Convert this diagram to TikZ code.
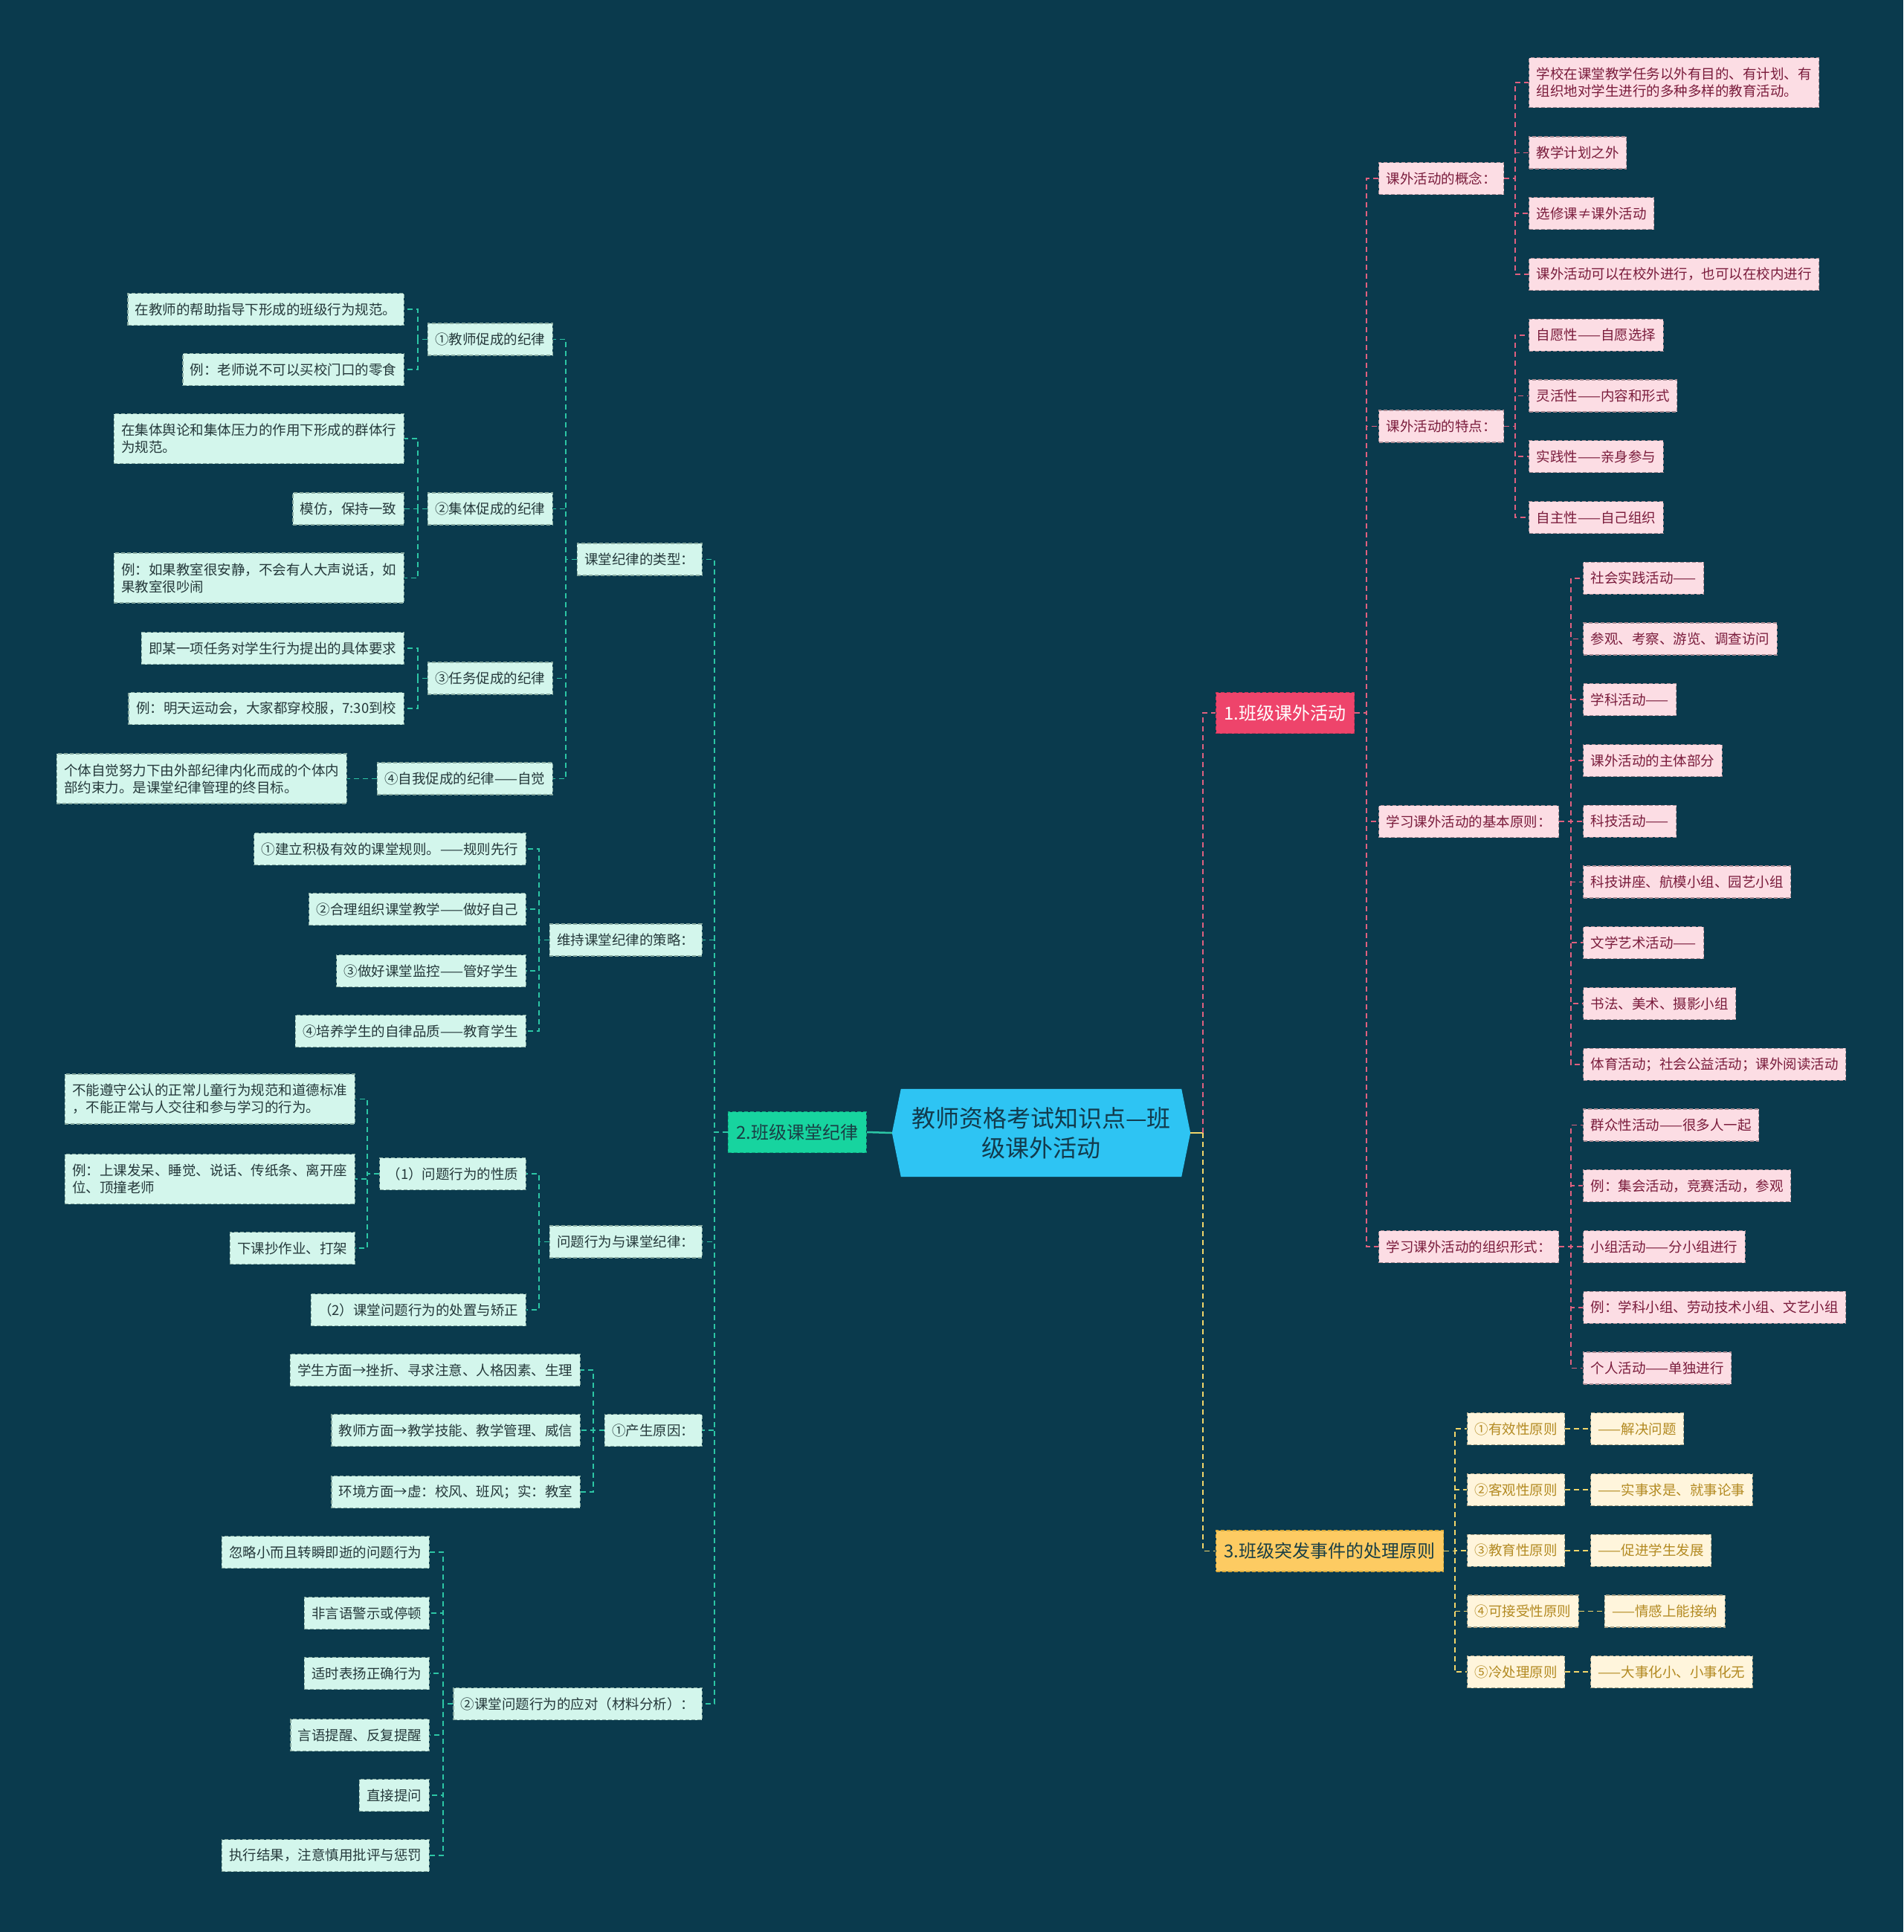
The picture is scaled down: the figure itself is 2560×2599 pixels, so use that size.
\documentclass[tikz,border=0pt]{standalone}
\usepackage{fontspec}
\setmainfont{Noto Sans CJK SC}
\usetikzlibrary{positioning,backgrounds}
\definecolor{bg}{HTML}{0A3A4D}
\definecolor{pinkfill}{HTML}{FCDDE4}
\definecolor{pinktext}{HTML}{7A1C3C}
\definecolor{pinkline}{HTML}{E0607F}
\definecolor{pinkborder}{HTML}{A88B93}
\definecolor{pinkmain}{HTML}{EE446B}
\definecolor{pinkmainb}{HTML}{C03556}
\definecolor{mintfill}{HTML}{D3F6EC}
\definecolor{minttext}{HTML}{25393B}
\definecolor{mintborder}{HTML}{86A89F}
\definecolor{greenline}{HTML}{2CC6A5}
\definecolor{greenmain}{HTML}{17D49F}
\definecolor{greenmainb}{HTML}{11A67D}
\definecolor{creamfill}{HTML}{FFF5DC}
\definecolor{creamtext}{HTML}{B38A22}
\definecolor{creamborder}{HTML}{A8A085}
\definecolor{yellowline}{HTML}{F3D66A}
\definecolor{yellowmain}{HTML}{FDCB62}
\definecolor{yellowmainb}{HTML}{D9A93A}
\definecolor{centerfill}{HTML}{2EC4F3}
\definecolor{centertext}{HTML}{123B4D}
\definecolor{maintext}{HTML}{1A3F45}
\tikzset{
 conn/.style={line width=1.6, dash pattern=on 7 off 5},
 pl/.style={conn, draw=pinkline},
 gl/.style={conn, draw=greenline},
 yl/.style={conn, draw=yellowline},
 mmbox/.style={font=\fontsize{18.5}{23}\selectfont, inner xsep=10, inner ysep=0, minimum height=43, align=left, line width=1.1, dash pattern=on 5 off 3},
 pbox/.style={mmbox, fill=pinkfill, text=pinktext, draw=pinkborder},
 gbox/.style={mmbox, fill=mintfill, text=minttext, draw=mintborder},
 ybox/.style={mmbox, fill=creamfill, text=creamtext, draw=creamborder},
 twoline/.style={minimum height=67},
 mainbox/.style={font=\fontsize{24}{30}\selectfont, inner xsep=11, inner ysep=0, minimum height=55, line width=1.2, dash pattern=on 5 off 3},
}
\begin{document}
\begin{tikzpicture}[x=1pt,y=-1pt]
\useasboundingbox (0,0) rectangle (2560,2599);
\begin{scope}[on background layer]
\fill[bg] (0,0) rectangle (2560,2599);
\end{scope}

% central
\node[font=\fontsize{32}{40}\selectfont, text=centertext, align=center, minimum width=401, minimum height=118, inner sep=0] (C) at (1400.5,1524) {教师资格考试知识点—班\\级课外活动};
\begin{scope}[on background layer]
\fill[centerfill] (C.west) -- ([xshift=12pt]C.north west) -- ([xshift=-12pt]C.north east) -- (C.east) -- ([xshift=-12pt]C.south east) -- ([xshift=12pt]C.south west) -- cycle;
\end{scope}

% ===== pink branch =====
\node[mainbox, anchor=west, fill=pinkmain, draw=pinkmainb, text=white] (P) at (1635,959) {1.班级课外活动};
\node[pbox, anchor=west] (P1) at (1854,240) {课外活动的概念：};
\node[pbox, anchor=west] (P2) at (1854,573.5) {课外活动的特点：};
\node[pbox, anchor=west] (P3) at (1854,1105) {学习课外活动的基本原则：};
\node[pbox, anchor=west] (P4) at (1854,1677) {学习课外活动的组织形式：};

\node[pbox, twoline, anchor=west] (P1a) at (2056,111) {学校在课堂教学任务以外有目的、有计划、有\\组织地对学生进行的多种多样的教育活动。};
\node[pbox, anchor=west] (P1b) at (2056,205.5) {教学计划之外};
\node[pbox, anchor=west] (P1c) at (2056,287.25) {选修课≠课外活动};
\node[pbox, anchor=west] (P1d) at (2056,369) {课外活动可以在校外进行，也可以在校内进行};
\node[pbox, anchor=west] (P2a) at (2056,450.75) {自愿性——自愿选择};
\node[pbox, anchor=west] (P2b) at (2056,532.5) {灵活性——内容和形式};
\node[pbox, anchor=west] (P2c) at (2056,614.25) {实践性——亲身参与};
\node[pbox, anchor=west] (P2d) at (2056,696) {自主性——自己组织};

\node[pbox, anchor=west] (P3a) at (2129,777.75) {社会实践活动——};
\node[pbox, anchor=west] (P3b) at (2129,859.5) {参观、考察、游览、调查访问};
\node[pbox, anchor=west] (P3c) at (2129,941.25) {学科活动——};
\node[pbox, anchor=west] (P3d) at (2129,1023) {课外活动的主体部分};
\node[pbox, anchor=west] (P3e) at (2129,1104.75) {科技活动——};
\node[pbox, anchor=west] (P3f) at (2129,1186.5) {科技讲座、航模小组、园艺小组};
\node[pbox, anchor=west] (P3g) at (2129,1268.25) {文学艺术活动——};
\node[pbox, anchor=west] (P3h) at (2129,1350) {书法、美术、摄影小组};
\node[pbox, anchor=west] (P3i) at (2129,1431.75) {体育活动；社会公益活动；课外阅读活动};
\node[pbox, anchor=west] (P4a) at (2129,1513.5) {群众性活动——很多人一起};
\node[pbox, anchor=west] (P4b) at (2129,1595.25) {例：集会活动，竞赛活动，参观};
\node[pbox, anchor=west] (P4c) at (2129,1677) {小组活动——分小组进行};
\node[pbox, anchor=west] (P4d) at (2129,1758.75) {例：学科小组、劳动技术小组、文艺小组};
\node[pbox, anchor=west] (P4e) at (2129,1840.5) {个人活动——单独进行};

% ===== yellow branch =====
\node[mainbox, anchor=west, fill=yellowmain, draw=yellowmainb, text=maintext] (Y) at (1635,2086.5) {3.班级突发事件的处理原则};
\node[ybox, anchor=west] (Y1) at (1973,1922.25) {①有效性原则};
\node[ybox, anchor=west] (Y2) at (1973,2004) {②客观性原则};
\node[ybox, anchor=west] (Y3) at (1973,2085.75) {③教育性原则};
\node[ybox, anchor=west] (Y4) at (1973,2167.5) {④可接受性原则};
\node[ybox, anchor=west] (Y5) at (1973,2249.25) {⑤冷处理原则};
\node[ybox, right=34pt of Y1] (Y1a) {——解决问题};
\node[ybox, right=34pt of Y2] (Y2a) {——实事求是、就事论事};
\node[ybox, right=34pt of Y3] (Y3a) {——促进学生发展};
\node[ybox, right=34pt of Y4] (Y4a) {——情感上能接纳};
\node[ybox, right=34pt of Y5] (Y5a) {——大事化小、小事化无};

% ===== green branch =====
\node[mainbox, anchor=east, fill=greenmain, draw=greenmainb, text=maintext] (G) at (1166,1523) {2.班级课堂纪律};
\node[gbox, anchor=east] (L1) at (945,752.5) {课堂纪律的类型：};
\node[gbox, anchor=east] (L2) at (945,1264.5) {维持课堂纪律的策略：};
\node[gbox, anchor=east] (L3) at (945,1670.5) {问题行为与课堂纪律：};
\node[gbox, anchor=east] (L4) at (945,1924) {①产生原因：};
\node[gbox, anchor=east] (L5) at (945,2292) {②课堂问题行为的应对（材料分析）：};

\node[gbox, anchor=east] (L1a) at (744,456.5) {①教师促成的纪律};
\node[gbox, anchor=east] (L1b) at (744,684.5) {②集体促成的纪律};
\node[gbox, anchor=east] (L1c) at (744,912.5) {③任务促成的纪律};
\node[gbox, anchor=east] (L1d) at (744,1047.5) {④自我促成的纪律——自觉};

\node[gbox, anchor=east] (L1a1) at (544,416) {在教师的帮助指导下形成的班级行为规范。};
\node[gbox, anchor=east] (L1a2) at (544,497) {例：老师说不可以买校门口的零食};
\node[gbox, twoline, anchor=east] (L1b1) at (544,590) {在集体舆论和集体压力的作用下形成的群体行\\为规范。};
\node[gbox, anchor=east] (L1b2) at (544,684.5) {模仿，保持一致};
\node[gbox, twoline, anchor=east] (L1b3) at (544,777.5) {例：如果教室很安静，不会有人大声说话，如\\果教室很吵闹};
\node[gbox, anchor=east] (L1c1) at (544,872) {即某一项任务对学生行为提出的具体要求};
\node[gbox, anchor=east] (L1c2) at (544,953) {例：明天运动会，大家都穿校服，7:30到校};
\node[gbox, twoline, anchor=east] (L1d1) at (467,1047.5) {个体自觉努力下由外部纪律内化而成的个体内\\部约束力。是课堂纪律管理的终目标。};

\node[gbox, anchor=east] (L2a) at (708,1142) {①建立积极有效的课堂规则。——规则先行};
\node[gbox, anchor=east] (L2b) at (708,1223) {②合理组织课堂教学——做好自己};
\node[gbox, anchor=east] (L2c) at (708,1306) {③做好课堂监控——管好学生};
\node[gbox, anchor=east] (L2d) at (708,1387) {④培养学生的自律品质——教育学生};

\node[gbox, anchor=east] (L3a) at (708,1579) {（1）问题行为的性质};
\node[gbox, anchor=east] (L3b) at (708,1762) {（2）课堂问题行为的处置与矫正};
\node[gbox, twoline, anchor=east] (L3a1) at (478,1478.5) {不能遵守公认的正常儿童行为规范和道德标准\\，不能正常与人交往和参与学习的行为。};
\node[gbox, twoline, anchor=east] (L3a2) at (478,1586) {例：上课发呆、睡觉、说话、传纸条、离开座\\位、顶撞老师};
\node[gbox, anchor=east] (L3a3) at (478,1679) {下课抄作业、打架};

\node[gbox, anchor=east] (L4a) at (781,1843) {学生方面→挫折、寻求注意、人格因素、生理};
\node[gbox, anchor=east] (L4b) at (781,1924) {教师方面→教学技能、教学管理、威信};
\node[gbox, anchor=east] (L4c) at (781,2007) {环境方面→虚：校风、班风；实：教室};

\node[gbox, anchor=east] (L5a) at (578,2088) {忽略小而且转瞬即逝的问题行为};
\node[gbox, anchor=east] (L5b) at (578,2170) {非言语警示或停顿};
\node[gbox, anchor=east] (L5c) at (578,2251) {适时表扬正确行为};
\node[gbox, anchor=east] (L5d) at (578,2334) {言语提醒、反复提醒};
\node[gbox, anchor=east] (L5e) at (578,2415) {直接提问};
\node[gbox, anchor=east] (L5f) at (578,2496) {执行结果，注意慎用批评与惩罚};

% ===== trunks =====
\coordinate (jR) at (1618,1524);
\coordinate (tP) at (1838,0);
\coordinate (tP12) at (2038,0);
\coordinate (tP34) at (2113,0);
\coordinate (tY) at (1957,0);
\coordinate (tG) at (961,0);
\coordinate (tL1) at (761,0);
\coordinate (tL1x) at (562,0);
\coordinate (tL2) at (725,0);
\coordinate (tL3a) at (494,0);
\coordinate (tL4) at (798,0);
\coordinate (tL5) at (596,0);

% ===== connectors =====
\draw[yellowline, line width=2.5] (C.east) -- (jR);
\draw[pl] (jR) |- (P.west);
\draw[yl] (jR) |- (Y.west);
\draw[greenline, line width=2.5] (C.west) -- (G.east);

\foreach \c in {P1,P2,P3,P4} \draw[pl] (P.east) -- (P.east -| tP) |- (\c.west);
\foreach \c in {P1a,P1b,P1c,P1d} \draw[pl] (P1.east) -- (P1.east -| tP12) |- (\c.west);
\foreach \c in {P2a,P2b,P2c,P2d} \draw[pl] (P2.east) -- (P2.east -| tP12) |- (\c.west);
\foreach \c in {P3a,P3b,P3c,P3d,P3e,P3f,P3g,P3h,P3i} \draw[pl] (P3.east) -- (P3.east -| tP34) |- (\c.west);
\foreach \c in {P4a,P4b,P4c,P4d,P4e} \draw[pl] (P4.east) -- (P4.east -| tP34) |- (\c.west);

\foreach \c in {Y1,Y2,Y3,Y4,Y5} \draw[yl] (Y.east) -- (Y.east -| tY) |- (\c.west);
\foreach \c in {1,2,3,4,5} \draw[yl] (Y\c.east) -- (Y\c a.west);

\foreach \c in {L1,L2,L3,L4,L5} \draw[gl] (G.west) -- (G.west -| tG) |- (\c.east);
\foreach \c in {L1a,L1b,L1c,L1d} \draw[gl] (L1.west) -- (L1.west -| tL1) |- (\c.east);
\foreach \c in {L1a1,L1a2} \draw[gl] (L1a.west) -- (L1a.west -| tL1x) |- (\c.east);
\foreach \c in {L1b1,L1b2,L1b3} \draw[gl] (L1b.west) -- (L1b.west -| tL1x) |- (\c.east);
\foreach \c in {L1c1,L1c2} \draw[gl] (L1c.west) -- (L1c.west -| tL1x) |- (\c.east);
\draw[gl] (L1d.west) -- (L1d1.east);
\foreach \c in {L2a,L2b,L2c,L2d} \draw[gl] (L2.west) -- (L2.west -| tL2) |- (\c.east);
\foreach \c in {L3a,L3b} \draw[gl] (L3.west) -- (L3.west -| tL2) |- (\c.east);
\foreach \c in {L3a1,L3a2,L3a3} \draw[gl] (L3a.west) -- (L3a.west -| tL3a) |- (\c.east);
\foreach \c in {L4a,L4b,L4c} \draw[gl] (L4.west) -- (L4.west -| tL4) |- (\c.east);
\foreach \c in {L5a,L5b,L5c,L5d,L5e,L5f} \draw[gl] (L5.west) -- (L5.west -| tL5) |- (\c.east);
\end{tikzpicture}
\end{document}
